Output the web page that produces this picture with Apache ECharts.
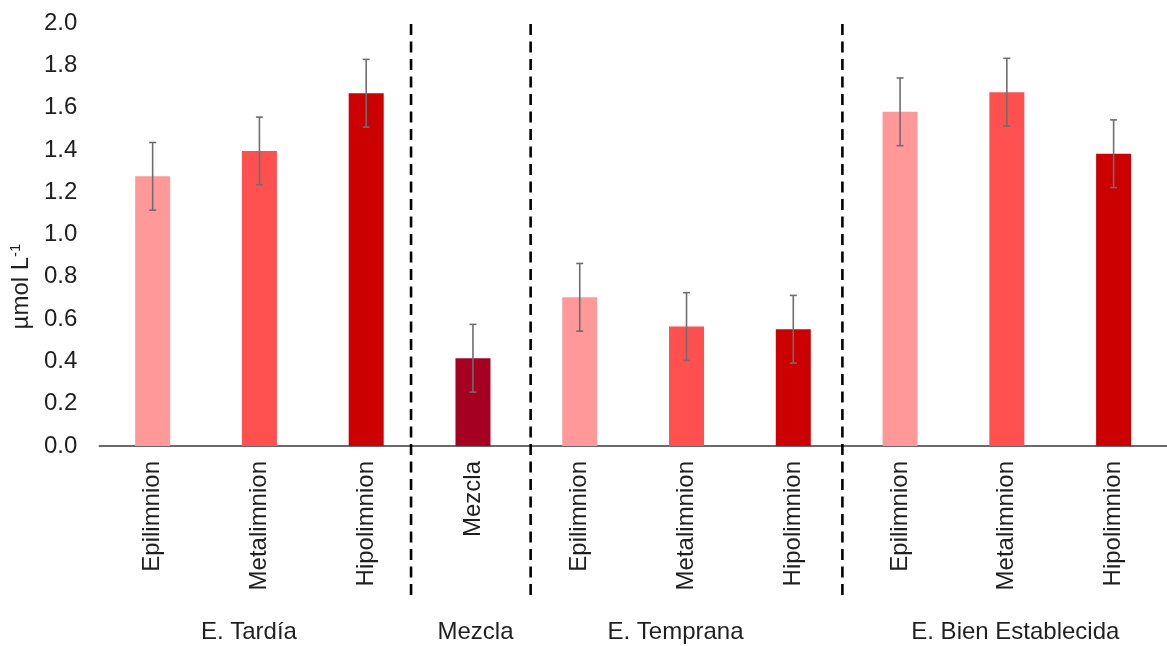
<!DOCTYPE html>
<html>
<head>
<meta charset="utf-8">
<script src="https://cdn.jsdelivr.net/npm/echarts@6/dist/echarts.min.js"></script>
<style>
  html, body { margin: 0; padding: 0; background: #fff; }
  #chart { width: 1167px; height: 646px; }
</style>
</head>
<body>
<div id="chart"></div>
<script>
// Layer of the water column for each bar
const categories = ['Epilimnion', 'Metalimnion', 'Hipolimnion', 'Mezcla',
                    'Epilimnion', 'Metalimnion', 'Hipolimnion',
                    'Epilimnion', 'Metalimnion', 'Hipolimnion'];
// Mean concentration (µmol L-1)
const values = [1.275, 1.395, 1.668, 0.415, 0.703, 0.565, 0.552, 1.580, 1.673, 1.382];
// Error (+/-)
const errors = [0.16, 0.16, 0.16, 0.16, 0.16, 0.16, 0.16, 0.16, 0.16, 0.16];
// Stratification phase shown under each group (one name per group, centred)
const groupLabels = ['', 'E. Tardía', '', 'Mezcla', '', 'E. Temprana', '', '', 'E. Bien Establecida', ''];
// Dashed phase separators: [category index, fraction of a band to the right]
const separators = [[2, 0.42], [3, 0.54], [6, 0.46]];
// Y axis ticks
const yMin = 0, yMax = 2.0, yStep = 0.2;

const barColors = {
  Epilimnion: '#FF9999',
  Metalimnion: '#FF5050',
  Hipolimnion: '#CC0000',
  Mezcla: '#A50021'
};

const FONT = "'Liberation Sans', Arial, sans-serif";
const TEXT = '#1f1f1f';

const chart = echarts.init(document.getElementById('chart'), null, { renderer: 'canvas' });

// horizontal nudges of the phase names (px, via rich padding)
const groupRich = {
  g1: { padding: [0, 21, 0, 0] },
  g3: { padding: [0, 0, 0, 5] },
  g5: { padding: [0, 22, 0, 0] },
  g8: { padding: [0, 0, 0, 17] }
};
Object.keys(groupRich).forEach(k => {
  Object.assign(groupRich[k], { fontSize: 24, fontFamily: FONT, color: TEXT });
});

const option = {
  animation: false,
  backgroundColor: '#ffffff',
  grid: { left: 98.7, right: -7.5, top: 23, bottom: 200, containLabel: false },
  xAxis: [
    {
      type: 'category',
      data: categories,
      axisLine: { show: true, lineStyle: { color: '#3a3a3a', width: 1.5 } },
      axisTick: { show: false },
      axisLabel: {
        interval: 0, rotate: 90, margin: 15,
        fontSize: 24, fontFamily: FONT, color: TEXT
      },
      splitLine: { show: false }
    },
    {
      type: 'category',
      position: 'bottom',
      data: groupLabels,
      axisLine: { show: false },
      axisTick: { show: false },
      axisLabel: {
        interval: 0, margin: 174,
        fontSize: 24, fontFamily: FONT, color: TEXT,
        formatter: (v, i) => v ? '{g' + i + '|' + v + '}' : '',
        rich: groupRich
      },
      splitLine: { show: false }
    }
  ],
  yAxis: {
    type: 'value',
    min: yMin, max: yMax, interval: yStep,
    axisLine: { show: false },
    axisTick: { show: false },
    splitLine: { show: false },
    axisLabel: {
      margin: 22, fontSize: 24, fontFamily: FONT, color: TEXT,
      formatter: v => v.toFixed(1)
    },
    name: 'µmol L{sup|-1}',
    nameLocation: 'middle',
    nameGap: 63,
    nameRotate: 90,
    nameTextStyle: {
      fontSize: 24, fontFamily: FONT, color: TEXT,
      padding: [0, 104, 0, 0],
      rich: {
        sup: { fontSize: 15, fontFamily: FONT, color: TEXT, padding: [0, 0, 11, 0] }
      }
    }
  },
  series: [
    {
      type: 'bar',
      xAxisIndex: 0,
      barWidth: 35,
      data: values.map((v, i) => ({ value: v, itemStyle: { color: barColors[categories[i]] } })),
      z: 2
    },
    {
      // error bars
      type: 'custom',
      xAxisIndex: 0,
      data: values.map((v, i) => [i, v, errors[i]]),
      encode: { x: 0, y: 1 },
      z: 3,
      renderItem: (params, api) => {
        const i = api.value(0), v = api.value(1), e = api.value(2);
        const hi = api.coord([i, v + e]);
        const lo = api.coord([i, v - e]);
        const cap = 3.5;
        const style = { stroke: '#6e6e6e', lineWidth: 1.6 };
        return {
          type: 'group',
          children: [
            { type: 'line', shape: { x1: hi[0], y1: hi[1], x2: lo[0], y2: lo[1] }, style },
            { type: 'line', shape: { x1: hi[0] - cap, y1: hi[1], x2: hi[0] + cap, y2: hi[1] }, style },
            { type: 'line', shape: { x1: lo[0] - cap, y1: lo[1], x2: lo[0] + cap, y2: lo[1] }, style }
          ]
        };
      }
    },
    {
      // dashed separators between phases, running down through the label area
      type: 'custom',
      xAxisIndex: 0,
      clip: false,
      data: separators,
      encode: { x: 0 },
      z: 4,
      renderItem: (params, api) => {
        const idx = api.value(0), frac = api.value(1);
        const band = api.size([1, 0])[0];
        const x = api.coord([idx, 0])[0] + frac * band;
        const top = api.coord([idx, yMax])[1];
        const bottom = api.coord([idx, -0.705])[1];
        return {
          type: 'line',
          shape: { x1: x, y1: bottom, x2: x, y2: top },
          style: { stroke: '#000', lineWidth: 2.6, lineDash: [11, 6.5] }
        };
      }
    }
  ]
};

chart.setOption(option);
</script>
</body>
</html>
